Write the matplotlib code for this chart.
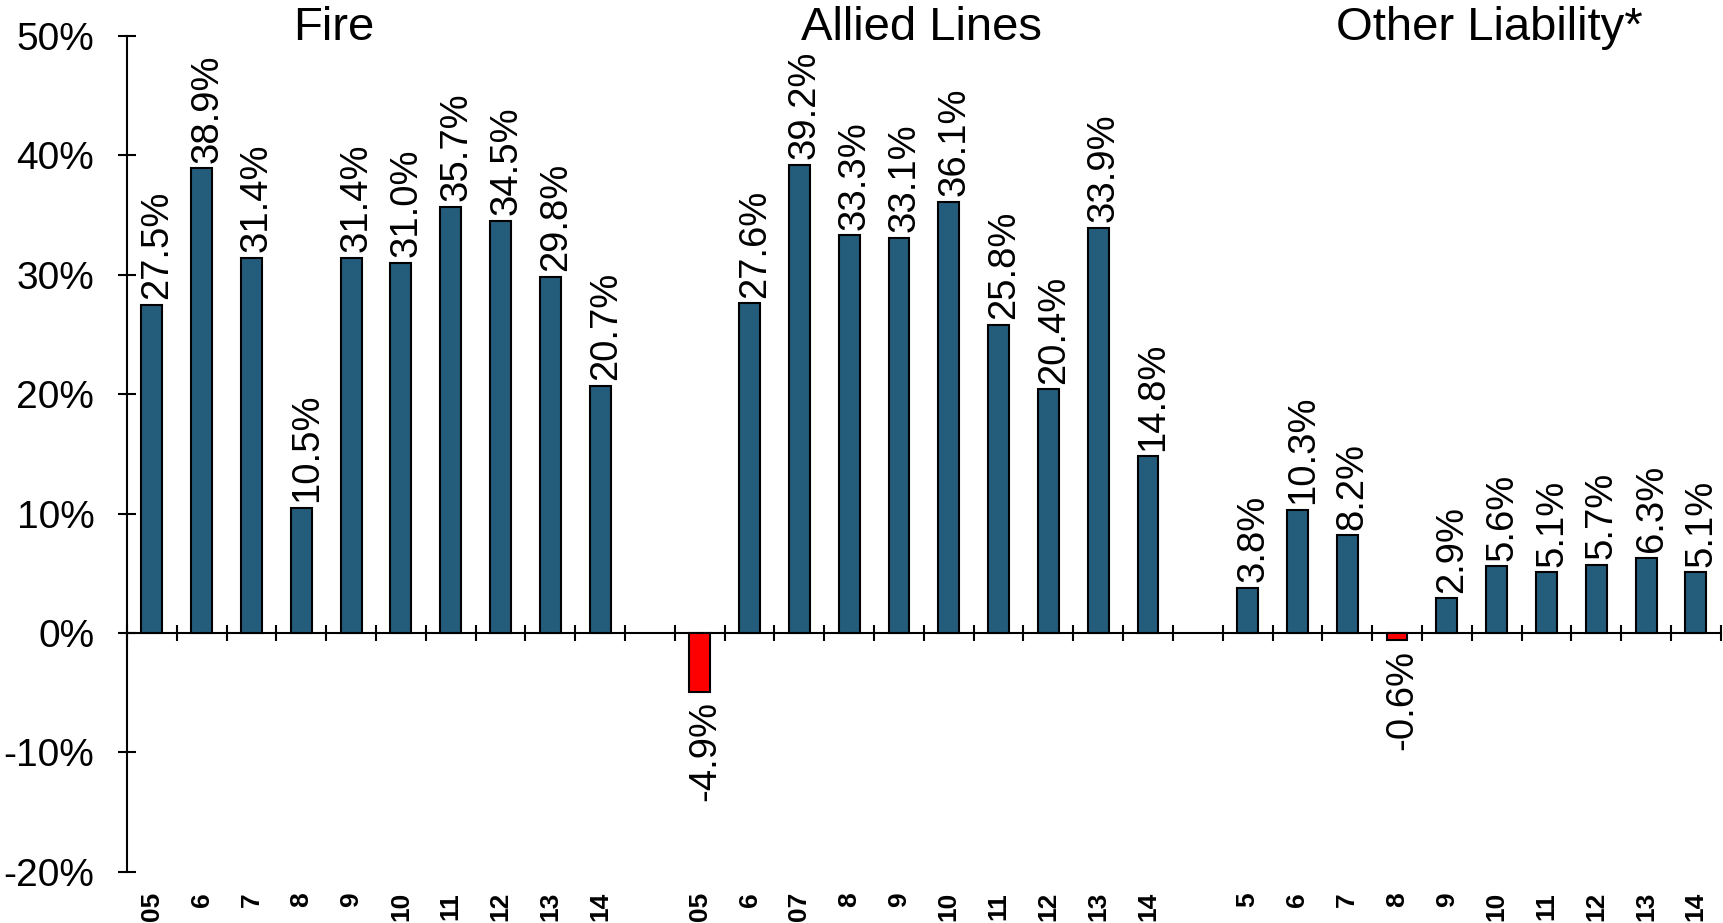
import matplotlib
matplotlib.use("Agg")
import matplotlib.pyplot as plt
from matplotlib.ticker import FuncFormatter, MultipleLocator

plt.rcParams['font.family'] = ['Liberation Sans', 'DejaVu Sans']

lines = ["Fire", "Allied Lines", "Other Liability*"]
fire = [27.5, 38.9, 31.4, 10.5, 31.4, 31.0, 35.7, 34.5, 29.8, 20.7]
allied = [-4.9, 27.6, 39.2, 33.3, 33.1, 36.1, 25.8, 20.4, 33.9, 14.8]
other = [3.8, 10.3, 8.2, -0.6, 2.9, 5.6, 5.1, 5.7, 6.3, 5.1]
fire_years = ["05", "6", "7", "8", "9", "10", "11", "12", "13", "14"]
allied_years = ["05", "6", "07", "8", "9", "10", "11", "12", "13", "14"]
other_years = ["5", "6", "7", "8", "9", "10", "11", "12", "13", "14"]

groups = [fire, allied, other]
group_years = [fire_years, allied_years, other_years]
title_x = [3.65, 15.45, 26.85]

BLUE = "#245C7C"
RED = "#FF0000"

fig = plt.figure(figsize=(17.23, 9.23), dpi=100)
ax = fig.add_axes([0.0737, 0.0553, 0.9250, 0.9060])

xs, vals, labels = [], [], []
for g, (values, years) in enumerate(zip(groups, group_years)):
    start = g * 11
    for i, (v, y) in enumerate(zip(values, years)):
        xs.append(start + i)
        vals.append(v)
        labels.append(y)

colors = [RED if v < 0 else BLUE for v in vals]
ax.bar(xs, vals, width=0.42, color=colors, edgecolor="black", linewidth=1.5, zorder=3)

for x, v in zip(xs, vals):
    if v >= 0:
        ax.annotate(f"{v:.1f}%", (x, v), xytext=(4, 4), textcoords="offset points",
                    rotation=90, ha="center", va="bottom", fontsize=27.5)
    else:
        ax.annotate(f"{v:.1f}%", (x, v), xytext=(4, -7), textcoords="offset points",
                    rotation=90, ha="center", va="top", fontsize=27.5)

# year labels sit below the plot area, not under the zero line
for x, lab in zip(xs, labels):
    ax.text(x, -0.024, lab, transform=ax.get_xaxis_transform(), rotation=90,
            ha="center", va="top", fontsize=19, fontweight="bold")

for name, tx in zip(lines, title_x):
    ax.text(tx, 49.6, name, ha="center", va="baseline", fontsize=34)

ax.set_xlim(-0.5, 31.5)
ax.set_ylim(-20, 50)
ax.spines["top"].set_visible(False)
ax.spines["right"].set_visible(False)
ax.spines["bottom"].set_position(("data", 0))
ax.spines["left"].set_linewidth(1.5)
ax.spines["bottom"].set_linewidth(1.5)

ax.set_xticks([k - 0.5 for k in range(33)])
ax.set_xticklabels([])
ax.tick_params(axis="x", direction="inout", length=12, width=1.5)

ax.yaxis.set_major_locator(MultipleLocator(10))
ax.yaxis.set_major_formatter(FuncFormatter(lambda v, p: f"{v:.0f}%"))
ax.tick_params(axis="y", direction="inout", length=13, width=1.5, labelsize=28, pad=17)

fig.savefig("out.png", dpi=100)
